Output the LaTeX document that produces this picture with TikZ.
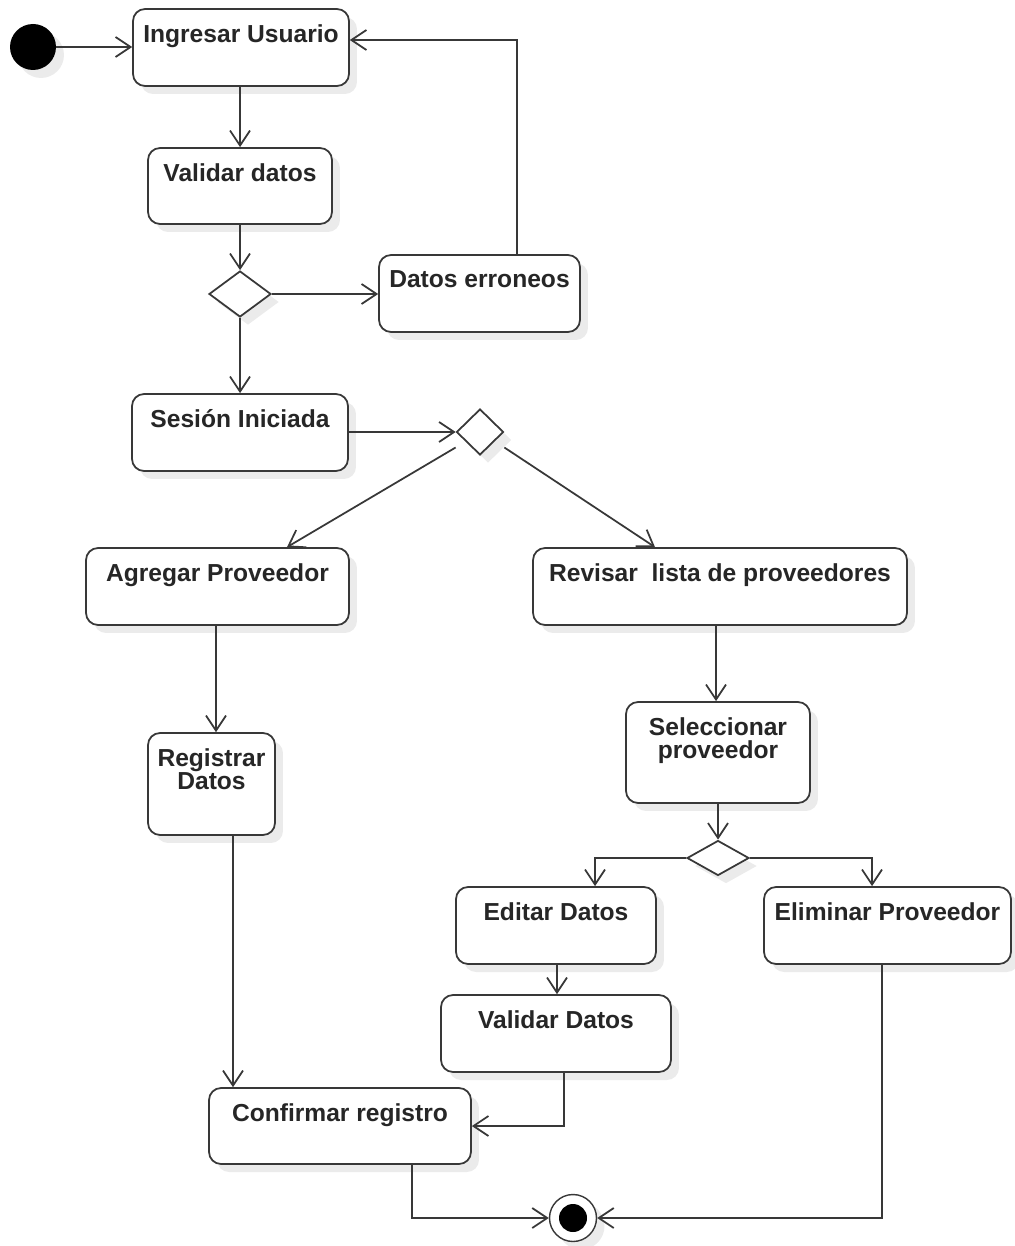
\documentclass[tikz,border=0pt]{standalone}
\usepackage{fontspec}
\setmainfont{Liberation Sans}
\usetikzlibrary{shapes.geometric,shadows,arrows.meta}
\definecolor{linec}{HTML}{383838}
\definecolor{txtc}{HTML}{262626}
\begin{document}
\begin{tikzpicture}[x=0.02cm, y=-0.02cm,
  shade/.style={drop shadow={shadow xshift=0.16cm, shadow yshift=-0.16cm, fill=black!8, opacity=1}},
  act/.style={draw=linec, line width=1pt, rounded corners=0.24cm, fill=white, inner sep=0pt, shade},
  txt/.style={anchor=north, yshift=-0.32cm, inner sep=0pt, align=center, text=txtc,
    font=\fontsize{14}{13.2}\selectfont\bfseries},
  decision/.style={diamond, draw=linec, line width=1pt, fill=white, inner sep=0pt, shade},
  flow/.style={draw=linec, line width=1pt, -{Straight Barb[length=0.3cm, width=0.4cm]}},
  link/.style={draw=linec, line width=1pt}]
\useasboundingbox (0,0) rectangle (1014,1246);

% start and end markers
\node[circle, fill=black, inner sep=0pt, minimum size=0.92cm, shade] (start) at (33,47) {};
\node[circle, draw=linec, line width=0.8pt, fill=white, inner sep=0pt, minimum size=0.94cm, shade] (final) at (573,1218) {};
\node[circle, fill=black, inner sep=0pt, minimum size=0.56cm] (finaldot) at (final.center) {};

% activities
\node[act, minimum width=4.32cm, minimum height=1.54cm, label={[txt]north:Ingresar Usuario}] (ingresar) at (241,47.5) {};
\node[act, minimum width=3.68cm, minimum height=1.52cm, label={[txt]north:Validar datos}] (validar) at (240,186) {};
\node[act, minimum width=4.02cm, minimum height=1.54cm, label={[txt]north:Datos erroneos}] (erroneos) at (479.5,293.5) {};
\node[act, minimum width=4.32cm, minimum height=1.54cm, label={[txt]north:Sesión Iniciada}] (sesion) at (240,432.5) {};
\node[act, minimum width=5.26cm, minimum height=1.54cm, label={[txt]north:Agregar Proveedor}] (agregar) at (217.5,586.5) {};
\node[act, minimum width=7.48cm, minimum height=1.54cm, label={[txt]north:Revisar\ \ lista de proveedores}] (revisar) at (720,586.5) {};
\node[act, minimum width=2.54cm, minimum height=2.04cm, label={[txt]north:Registrar\\Datos}] (registrar) at (211.5,784) {};
\node[act, minimum width=3.68cm, minimum height=2.02cm, label={[txt]north:Seleccionar\\proveedor}] (seleccionar) at (718,752.5) {};
\node[act, minimum width=4.00cm, minimum height=1.54cm, label={[txt]north:Editar Datos}] (editar) at (556,925.5) {};
\node[act, minimum width=4.94cm, minimum height=1.54cm, label={[txt]north:Eliminar Proveedor}] (eliminar) at (887.5,925.5) {};
\node[act, minimum width=4.60cm, minimum height=1.54cm, label={[txt]north:Validar Datos}] (validar2) at (556,1033.5) {};
\node[act, minimum width=5.24cm, minimum height=1.52cm, label={[txt]north:Confirmar registro}] (confirmar) at (340,1126) {};

% decisions
\node[decision, minimum width=1.24cm, minimum height=0.92cm] (d1) at (240,294) {};
\node[decision, minimum width=0.94cm, minimum height=0.92cm] (d2) at (480,432) {};
\node[decision, minimum width=1.24cm, minimum height=0.70cm] (d3) at (718,858) {};

% return path of the login loop
\coordinate (back) at (517,40);

% connectors
\draw[flow] (start.east) -- (start.east -| ingresar.west);
\draw[flow] (ingresar.south -| validar.north) -- (validar.north);
\draw[flow] (validar.south) -- (d1.north);
\draw[flow] (d1.east) -- (d1.east -| erroneos.west);
\draw[flow] (erroneos.north -| back) -- (back) -- (ingresar.east |- back);
\draw[flow] (d1.south) -- (sesion.north);
\draw[flow] (sesion.east |- d2.west) -- (d2.west);
\draw[flow] ([yshift=-0.31cm]d2.west) -- (agregar.north -| 287,0);
\draw[flow] ([yshift=-0.31cm]d2.east) -- (revisar.north -| 655,0);
\draw[flow] (agregar.south -| 216,0) -- (registrar.north -| 216,0);
\draw[flow] (revisar.south -| 716,0) -- (seleccionar.north -| 716,0);
\draw[flow] (seleccionar.south) -- (d3.north);
\draw[flow] (d3.west) -| (editar.north -| 595,0);
\draw[flow] (d3.east) -| (eliminar.north -| 872,0);
\draw[flow] (editar.south -| 557,0) -- (validar2.north -| 557,0);
\draw[flow] (registrar.south -| 233,0) -- (confirmar.north -| 233,0);
\draw[flow] (validar2.south -| 564,0) |- (confirmar.east);
\draw[flow] (confirmar.south -| 412,0) |- (final.west);
\draw[flow] (eliminar.south -| 882,0) |- (final.east);
\end{tikzpicture}
\end{document}
